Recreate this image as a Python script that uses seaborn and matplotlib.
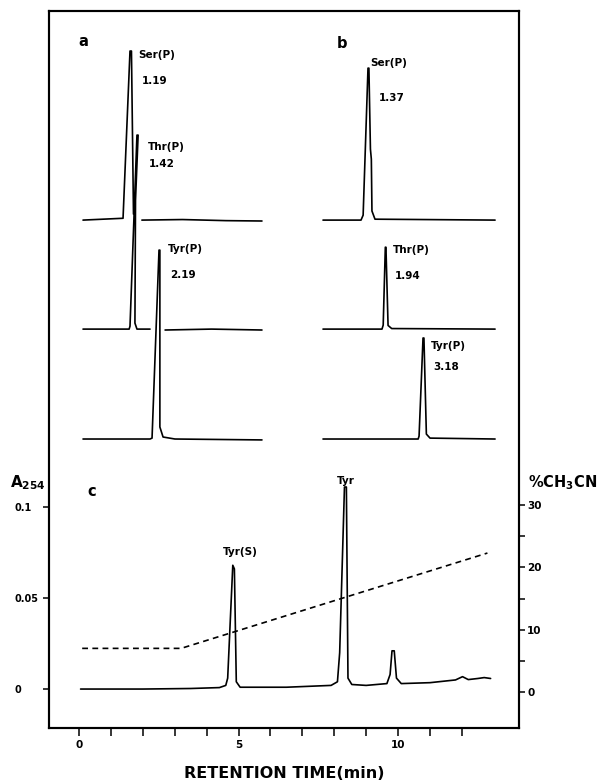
import numpy as np
import pandas as pd
import matplotlib
matplotlib.use("Agg")
import matplotlib.pyplot as plt
import seaborn as sns

nan = np.nan

# ---------------- data ----------------
# Panel a: retention time (min) and absorbance above each trace's baseline
a_ser_t = [-0.43, 0.95, 1.19, 1.24, 1.31, nan, 1.60, 3.0, 4.5, 5.74]
a_ser_h = [0.0, 0.001, 0.0929, 0.0929, 0.0033, nan, 0.0, 0.0003, -0.0003, -0.0005]
a_thr_t = [-0.43, 1.16, 1.19, 1.43, 1.47, 1.38, 1.36, 1.43, 1.88, nan, 2.40, 4.0, 5.74]
a_thr_h = [0.0, 0.0, 0.0016, 0.1066, 0.1066, 0.0709, 0.0033, 0.0, 0.0, nan, -0.0005, 0.0, -0.0005]
a_tyr_t = [-0.43, 1.88, 1.95, 2.19, 2.22, 2.22, 2.33, 2.74, 5.74]
a_tyr_h = [0.0, 0.0, 0.0005, 0.1038, 0.1038, 0.0066, 0.0011, 0.0, -0.0005]

# Panel b
b_ser_t = [-0.11, 1.14, 1.21, 1.37, 1.40, 1.45, 1.48, 1.50, 1.60, 5.55]
b_ser_h = [0.0, 0.0, 0.0027, 0.0835, 0.0835, 0.039, 0.0335, 0.005, 0.0005, 0.0]
b_thr_t = [-0.11, 1.83, 1.87, 1.94, 1.96, 2.03, 2.15, 5.55]
b_thr_h = [0.0, 0.0, 0.0022, 0.045, 0.045, 0.002, 0.0003, 0.0]
b_tyr_t = [-0.11, 3.02, 3.05, 3.18, 3.21, 3.29, 3.41, 5.55]
b_tyr_h = [0.0, 0.0, 0.0016, 0.0555, 0.0555, 0.0027, 0.0005, 0.0]

# vertical offsets of the three stacked traces (top, middle, bottom)
row_offsets = [0.1203, 0.0604, 0.0]

# Panel c: A254 chromatogram
c_t = [0.05, 2.0, 3.5, 4.4, 4.6, 4.66, 4.82, 4.87, 4.93, 5.05, 6.5, 7.9, 8.1, 8.17,
       8.32, 8.38, 8.43, 8.55, 9.0, 9.65, 9.75, 9.81, 9.88, 9.95, 10.1, 11.0, 11.8,
       12.02, 12.2, 12.5, 12.7, 12.9]
c_a = [0.0, 0.0, 0.0003, 0.0008, 0.002, 0.006, 0.068, 0.066, 0.004, 0.001, 0.001,
       0.002, 0.004, 0.02, 0.111, 0.111, 0.006, 0.0025, 0.002, 0.003, 0.008, 0.021,
       0.021, 0.006, 0.003, 0.0035, 0.005, 0.0068, 0.0052, 0.0058, 0.0063, 0.0058]

# Acetonitrile gradient (%)
grad_t = [0.1, 3.2, 12.8]
grad_pct = [7.0, 7.0, 22.3]

x_ticks = list(range(13))
x_ticklabels = ["0", "", "", "", "", "5", "", "", "", "", "10", "", ""]
a_ticks = [0, 0.05, 0.1]
a_ticklabels = ["0", "0.05", "0.1"]
p_ticks = [0, 5, 10, 15, 20, 25, 30]
p_ticklabels = ["0", "", "10", "", "20", "", "30"]

# ---------------- style ----------------
sns.set_style("ticks")
plt.rcParams["font.family"] = ["DejaVu Sans"]
plt.rcParams["font.weight"] = "bold"
plt.rcParams["mathtext.fontset"] = "dejavusans"
plt.rcParams["mathtext.default"] = "bf"
for k in ("text.color", "axes.labelcolor", "xtick.color", "ytick.color", "axes.edgecolor"):
    plt.rcParams[k] = "black"

W, H = 599, 784
fig = plt.figure(figsize=(W / 100, H / 100), dpi=100)
fig.patch.set_facecolor("white")


def rect(x0, y0, x1, y1):
    return [x0 / W, 1 - y1 / H, (x1 - x0) / W, (y1 - y0) / H]


LW = 1.2
SPW = 1.5

ax = fig.add_axes(rect(49, 11, 519, 728))
ax.set_xlim(-0.94, 13.79)
ax.set_ylim(-0.0214, 0.3725)
ax2 = ax.twinx()
ax2.set_ylim(-5.78, 109.3)

for a_ in (ax, ax2):
    for s in a_.spines.values():
        s.set_linewidth(SPW)
        s.set_color("black")
        s.set_visible(True)

# panel c traces
sns.lineplot(x=c_t, y=c_a, sort=False, estimator=None, color="black", lw=LW, ax=ax)
sns.lineplot(x=grad_t, y=grad_pct, sort=False, estimator=None, color="black", lw=1.2,
             ax=ax2, linestyle=(0, (3.5, 2.6)))

ax.set_xticks(x_ticks)
ax.set_xticklabels(x_ticklabels)
ax.set_yticks(a_ticks)
ax.set_yticklabels(a_ticklabels)
ax.tick_params(axis="x", direction="out", length=6, width=1.1, pad=3, labelsize=7.5,
               colors="black")
ax.tick_params(axis="y", direction="out", length=4.3, width=1.1, pad=20.2, labelsize=7,
               colors="black")
for lab_ in ax.get_yticklabels():
    lab_.set_ha("left")
ax2.set_yticks(p_ticks)
ax2.set_yticklabels(p_ticklabels)
ax2.tick_params(axis="y", direction="out", length=4.3, width=1.1, pad=1.5, labelsize=7.5,
                colors="black")

ax.set_xlabel("RETENTION TIME(min)", fontsize=11.5, fontweight="bold", labelpad=11,
              color="black")
ax.set_ylabel("A$_{254}$", fontsize=11, fontweight="bold", rotation=0, ha="left",
              va="center", color="black")
ax.yaxis.set_label_coords((10 - 49) / 470, (728 - 483) / 717)
ax2.set_ylabel("%CH$_3$CN", fontsize=10.5, fontweight="bold", rotation=0, ha="left",
               va="center", color="black")
ax2.yaxis.set_label_coords((528 - 49) / 470, (728 - 483) / 717)

# panels a and b (stacked chromatograms)
ax_a = fig.add_axes(rect(49, 11, 284, 728))
ax_a.set_xlim(-1.603, 6.5)
ax_a.set_ylim(-0.1588, 0.2352)
ax_b = fig.add_axes(rect(284, 11, 519, 728))
ax_b.set_xlim(-1.393, 6.337)
ax_b.set_ylim(-0.1588, 0.2352)


def trace_frame(ts, hs, off):
    df = pd.DataFrame({"t": ts, "h": hs})
    df["seg"] = df["h"].isna().cumsum()
    df = df.dropna()
    df["y"] = df["h"] + off
    return df


for axp, traces in ((ax_a, [(a_ser_t, a_ser_h), (a_thr_t, a_thr_h), (a_tyr_t, a_tyr_h)]),
                    (ax_b, [(b_ser_t, b_ser_h), (b_thr_t, b_thr_h), (b_tyr_t, b_tyr_h)])):
    for (ts, hs), off in zip(traces, row_offsets):
        df = trace_frame(ts, hs, off)
        sns.lineplot(data=df, x="t", y="y", units="seg", estimator=None, sort=False,
                     color="black", lw=LW, ax=axp)
    axp.axis("off")

FS = 7.5


def lab(axp, text, xy, off, ha="left"):
    axp.annotate(text, xy=xy, xytext=off, textcoords="offset pixels",
                 ha=ha, va="center", fontsize=FS, fontweight="bold", color="black")


lab(ax_a, "Ser(P)", (1.19, row_offsets[0] + 0.0929), (8, -4))
lab(ax_a, "1.19", (1.19, row_offsets[0] + 0.0929), (12, -30))
lab(ax_a, "Thr(P)", (1.43, row_offsets[1] + 0.1066), (11, -12))
lab(ax_a, "1.42", (1.43, row_offsets[1] + 0.1066), (12, -29))
lab(ax_a, "Tyr(P)", (2.19, row_offsets[2] + 0.1038), (9, 1))
lab(ax_a, "2.19", (2.19, row_offsets[2] + 0.1038), (11, -25))

lab(ax_b, "Ser(P)", (1.37, row_offsets[0] + 0.0835), (2, 5))
lab(ax_b, "1.37", (1.37, row_offsets[0] + 0.0835), (11, -30))
lab(ax_b, "Thr(P)", (1.94, row_offsets[1] + 0.045), (8, -3))
lab(ax_b, "1.94", (1.94, row_offsets[1] + 0.045), (9, -29))
lab(ax_b, "Tyr(P)", (3.18, row_offsets[2] + 0.0555), (8, -8))
lab(ax_b, "3.18", (3.18, row_offsets[2] + 0.0555), (10, -29))

lab(ax, "Tyr(S)", (4.82, 0.068), (8, 13), ha="center")
lab(ax, "Tyr", (8.32, 0.111), (1, 6), ha="center")

for letter, (px, py) in (("a", (83, 42)), ("b", (342, 43)), ("c", (92, 491))):
    fig.text(px / W, 1 - py / H, letter, ha="center", va="center", fontsize=10.5,
             fontweight="bold", color="black")

fig.savefig("out.png", dpi=100, facecolor="white")
